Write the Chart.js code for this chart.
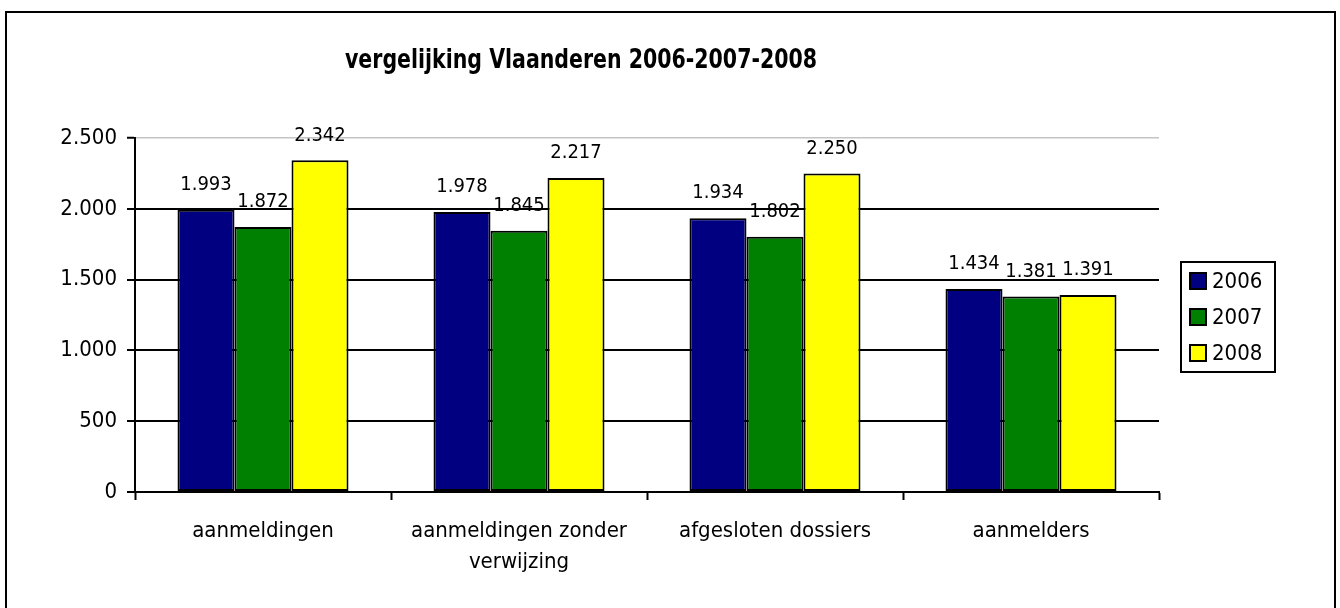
<!DOCTYPE html>
<html>
<head>
<meta charset="utf-8">
<script src="https://cdn.jsdelivr.net/npm/chart.js@4.4.1/dist/chart.umd.min.js"></script>
<style>
  html, body { margin: 0; padding: 0; background: #fff; }
  #wrap { position: relative; width: 1340px; height: 608px; }
  canvas { display: block; }
</style>
</head>
<body>
<div id="wrap"><canvas id="c" width="1340" height="608"></canvas></div>
<script>
// ---- data ----
const titleText = 'vergelijking Vlaanderen 2006-2007-2008';
const categories = ['aanmeldingen', ['aanmeldingen zonder', 'verwijzing'], 'afgesloten dossiers', 'aanmelders'];
const seriesNames = ['2006', '2007', '2008'];
const values2006 = [1993, 1978, 1934, 1434];
const values2007 = [1872, 1845, 1802, 1381];
const values2008 = [2342, 2217, 2250, 1391];
const yTicks = [0, 500, 1000, 1500, 2000, 2500];

const FONT = '"DejaVu Sans Condensed", "DejaVu Sans", sans-serif';
const colors = ['#000080', '#008000', '#FFFF00'];

function fmt(v) {
  return String(Math.round(v)).replace(/\B(?=(\d{3})+(?!\d))/g, '.');
}

const framePlugin = {
  id: 'frame',
  beforeDraw(chart) {
    const ctx = chart.ctx;
    ctx.save();
    ctx.fillStyle = '#fff';
    ctx.fillRect(0, 0, chart.width, chart.height);
    ctx.strokeStyle = '#000';
    ctx.lineWidth = 2;
    ctx.strokeRect(6, 12, 1329, 700);
    ctx.restore();
  }
};

const titlePlugin = {
  id: 'ctitle',
  afterDraw(chart) {
    const ctx = chart.ctx;
    ctx.save();
    ctx.fillStyle = '#000';
    const size = 27;
    ctx.font = 'bold ' + size + 'px ' + FONT;
    const w = ctx.measureText(titleText).width;
    const sx = 472 / w;
    ctx.textAlign = 'center';
    ctx.textBaseline = 'alphabetic';
    ctx.translate(581, 68);
    ctx.scale(sx, 1);
    ctx.fillText(titleText, 0, 0);
    ctx.restore();
  }
};

const labelPlugin = {
  id: 'vlabels',
  afterDatasetsDraw(chart) {
    const ctx = chart.ctx;
    ctx.save();
    ctx.fillStyle = '#000';
    ctx.font = '20px ' + FONT;
    ctx.textAlign = 'center';
    ctx.textBaseline = 'middle';
    chart.data.datasets.forEach((ds, i) => {
      const meta = chart.getDatasetMeta(i);
      meta.data.forEach((el, j) => {
        ctx.fillText(fmt(ds.data[j]), el.x, el.y - 25);
      });
    });
    ctx.restore();
  }
};

const legendPlugin = {
  id: 'clegend',
  afterDraw(chart) {
    const ctx = chart.ctx;
    ctx.save();
    const left = 1181, top = 262, w = 94, h = 110;
    ctx.strokeStyle = '#000';
    ctx.lineWidth = 2;
    ctx.strokeRect(left, top, w, h);
    ctx.font = '22px ' + FONT;
    ctx.textBaseline = 'middle';
    ctx.textAlign = 'left';
    chart.data.datasets.forEach((ds, i) => {
      const cy = 281 + i * 36;
      ctx.fillStyle = ds.backgroundColor;
      ctx.fillRect(1190, cy - 8, 16, 16);
      ctx.lineWidth = 2;
      ctx.strokeRect(1190, cy - 8, 16, 16);
      ctx.fillStyle = '#000';
      ctx.fillText(ds.label, 1212, cy + 1);
    });
    ctx.restore();
  }
};

const datasets = [values2006, values2007, values2008].map((vals, i) => ({
  label: seriesNames[i],
  data: vals,
  backgroundColor: colors[i],
  borderColor: '#000',
  borderWidth: 2,
  borderSkipped: false,
  barPercentage: 1.0,
  categoryPercentage: 0.668
}));

new Chart(document.getElementById('c'), {
  type: 'bar',
  data: { labels: categories, datasets },
  options: {
    responsive: false,
    animation: false,
    devicePixelRatio: 1,
    layout: { padding: { left: 0, top: 138, right: 181, bottom: 0 } },
    plugins: {
      legend: { display: false },
      title: { display: false },
      tooltip: { enabled: false }
    },
    scales: {
      x: {
        afterFit(s) { s.height = 116; },
        grid: {
          display: true,
          offset: true,
          drawOnChartArea: false,
          drawTicks: true,
          tickLength: 8,
          tickWidth: 2,
          tickColor: '#000'
        },
        border: { display: true, color: '#000', width: 2 },
        ticks: {
          color: '#000',
          font: { family: FONT, size: 22, lineHeight: 1.4 },
          padding: 16,
          maxRotation: 0,
          autoSkip: false
        }
      },
      y: {
        min: 0,
        max: 2500,
        afterFit(s) { s.width = 135; },
        afterBuildTicks(s) { s.ticks = yTicks.map(v => ({ value: v })); },
        grid: {
          color: (c) => (c.tick && c.tick.value === 2500) ? '#c4c4c4' : '#000',
          lineWidth: (c) => (c.tick && c.tick.value === 2500) ? 1.5 : 2,
          tickColor: '#000',
          tickLength: 8,
          tickWidth: 2
        },
        border: { display: true, color: '#000', width: 2 },
        ticks: {
          color: '#000',
          font: { family: FONT, size: 22 },
          padding: 10,
          callback: (v) => fmt(v)
        }
      }
    }
  },
  plugins: [framePlugin, labelPlugin, legendPlugin, titlePlugin]
});
</script>
</body>
</html>
